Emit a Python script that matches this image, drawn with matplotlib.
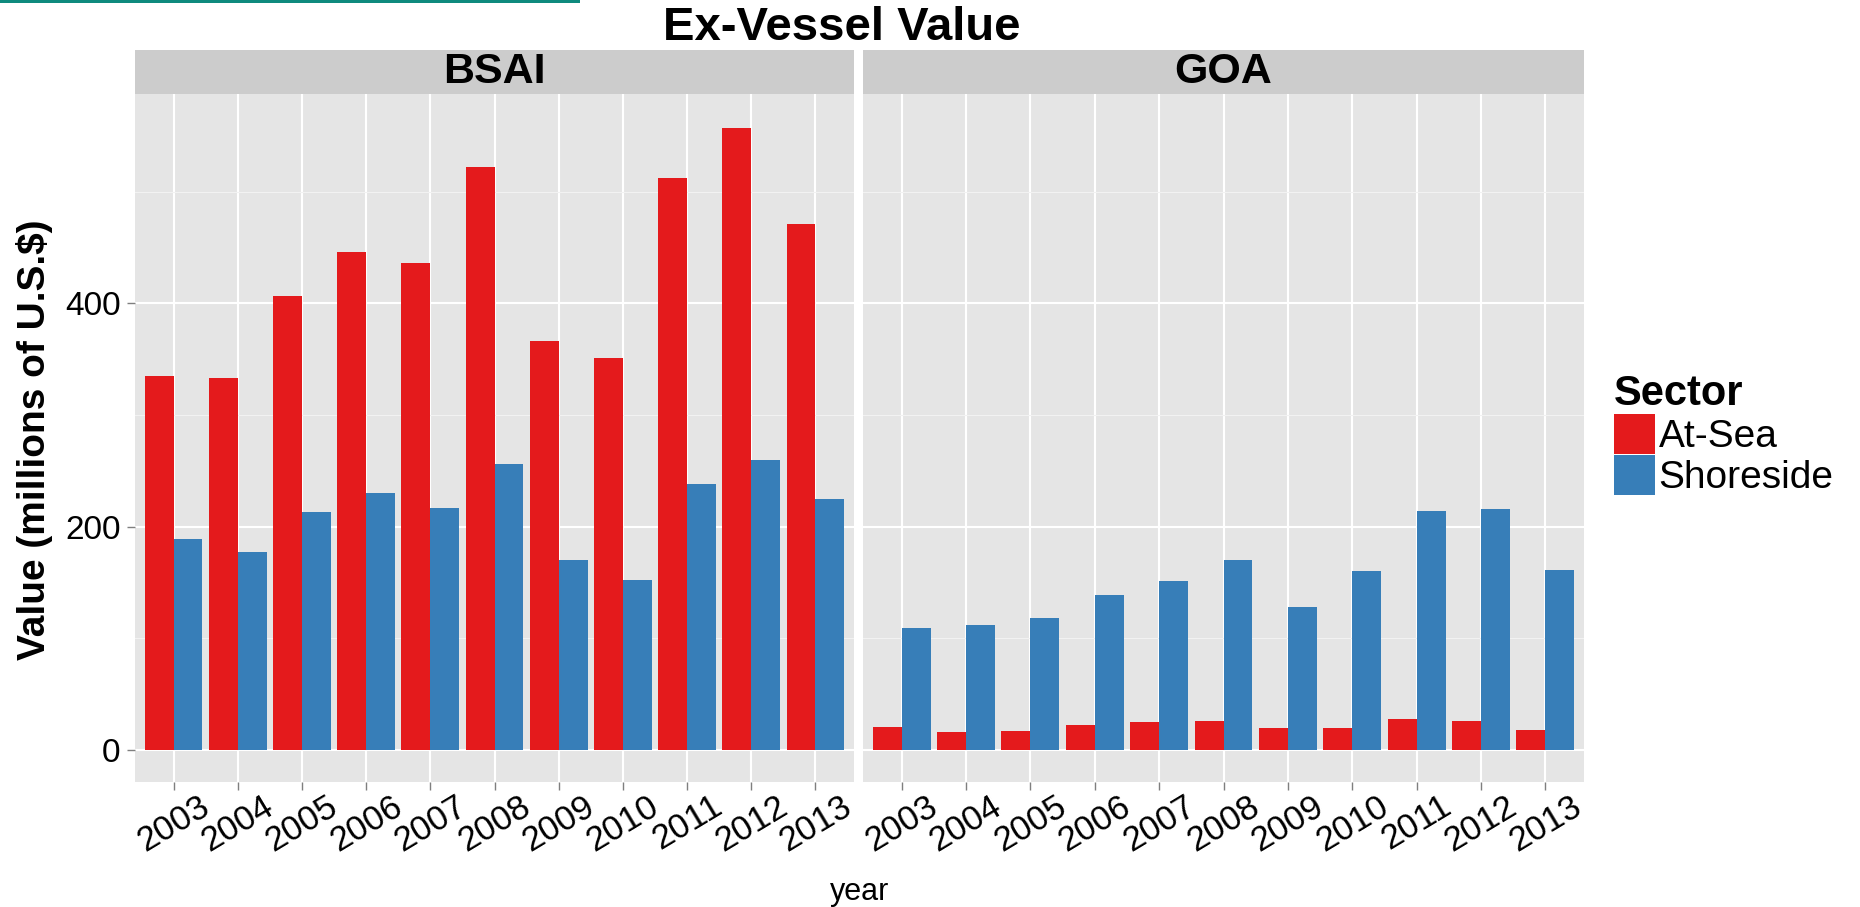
import numpy as np
import matplotlib.pyplot as plt
from matplotlib.patches import Rectangle
from matplotlib.transforms import ScaledTranslation

# data (millions of U.S.$)
years = ["2003", "2004", "2005", "2006", "2007", "2008",
         "2009", "2010", "2011", "2012", "2013"]
regions = ["BSAI", "GOA"]
sectors = ["At-Sea", "Shoreside"]

bsai_at_sea = [335, 333, 407, 446, 436, 522, 366, 351, 512, 557, 471]
bsai_shoreside = [189, 177, 213, 230, 217, 256, 170, 152, 238, 260, 225]
goa_at_sea = [21, 16, 17, 22, 25, 26, 20, 20, 28, 26, 18]
goa_shoreside = [109, 112, 118, 139, 151, 170, 128, 160, 214, 216, 161]

colors = ["#E41A1C", "#377EB8"]

plt.rcParams['font.family'] = ['Liberation Sans', 'DejaVu Sans']

W, H = 1860, 907
fig = plt.figure(figsize=(W / 100, H / 100), dpi=100)


def fx(px):
    return px / W


def fy(py):
    return 1 - py / H


panels = [(135, 854), (863, 1584)]
top, bottom, strip_top = 94, 782, 50
values = [(bsai_at_sea, bsai_shoreside), (goa_at_sea, goa_shoreside)]

# shift for the rotated year labels (pixels right, up)
label_shift = ScaledTranslation(33 / 100, 13 / 100, fig.dpi_scale_trans)

x = np.arange(len(years))
bw = 0.45
handles = []
for k, ((l, r), name, vals) in enumerate(zip(panels, regions, values)):
    ax = fig.add_axes([fx(l), fy(bottom), fx(r - l), (bottom - top) / H])
    ax.set_facecolor('#E5E5E5')
    for i, (v, c, lab) in enumerate(zip(vals, colors, sectors)):
        b = ax.bar(x + (i - 0.5) * bw, v, width=bw, color=c, label=lab,
                   linewidth=0, zorder=3)
        if k == 0:
            handles.append(b)
    ax.set_xlim(-0.6, len(years) - 0.4)
    ax.set_ylim(-28.6, 587.5)
    ax.set_yticks([0, 200, 400])
    ax.set_yticks([100, 300, 500], minor=True)
    ax.set_xticks(x)
    ax.set_xticklabels(years, rotation=31, ha='center', va='top')
    for t in ax.get_xticklabels():
        t.set_transform(t.get_transform() + label_shift)
    ax.grid(which='major', color='white', lw=1.5, zorder=0)
    ax.grid(which='minor', axis='y', color='#F2F2F2', lw=0.8, zorder=0)
    ax.set_axisbelow(True)
    for s in ax.spines.values():
        s.set_visible(False)
    ax.tick_params(which='major', length=5.5, width=1, color='#7F7F7F',
                   labelsize=24, labelcolor='black', pad=5)
    ax.tick_params(axis='x', pad=0, labelsize=25)
    ax.tick_params(which='minor', length=0)
    if k > 0:
        ax.tick_params(axis='y', left=False, labelleft=False)

    # facet strip
    sax = fig.add_axes([fx(l), fy(top), fx(r - l), (top - strip_top) / H])
    sax.set_facecolor('#CCCCCC')
    sax.set_xticks([])
    sax.set_yticks([])
    for s in sax.spines.values():
        s.set_visible(False)
    sax.text(0.5, 0.5, name, ha='center', va='center', fontsize=31,
             weight='bold', transform=sax.transAxes)

fig.text(fx(842), fy(28), "Ex-Vessel Value", ha='center', va='center',
         fontsize=34, weight='bold')
fig.text(fx(35), fy(440), "Value (millions of U.S.$)", ha='center',
         va='center', rotation=90, fontsize=28, weight='bold')
fig.text(fx(860), fy(892), "year", ha='center', va='center', fontsize=22)

fig.legend(handles, sectors, title="Sector", loc='upper left',
           bbox_to_anchor=(fx(1614), fy(374)), frameon=False, fontsize=28,
           title_fontproperties={'weight': 'bold', 'size': 30},
           handlelength=1.05, handleheight=1.2, handletextpad=0.1,
           labelspacing=0, borderpad=0, borderaxespad=0, alignment='left')

# thin teal band left over from the slide at the top edge
fig.add_artist(Rectangle((0, fy(3)), fx(580), 3 / H, color='#0E8A7E',
                         transform=fig.transFigure, lw=0))

fig.savefig("out.png", dpi=100)
